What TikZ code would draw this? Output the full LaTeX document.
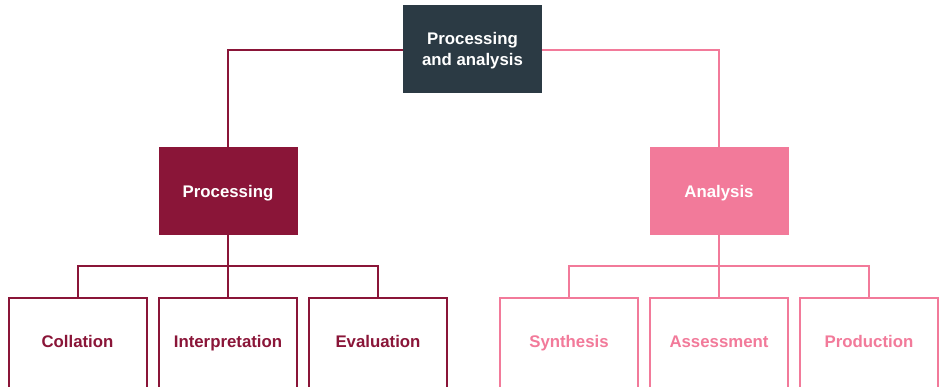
\documentclass[tikz,border=0pt]{standalone}
\usepackage{fontspec}
\setmainfont{Liberation Sans}
\definecolor{darkbox}{HTML}{2B3A44}
\definecolor{wine}{HTML}{8A1538}
\definecolor{rose}{HTML}{F27A9A}
\begin{document}
\begin{tikzpicture}[x=0.75pt,y=-0.75pt,
  every node/.style={font=\fontsize{12.6}{15.75}\selectfont\bfseries, align=center, inner sep=0pt, outer sep=0pt, text height=9.1pt, text depth=0pt},
  filledbox/.style={minimum width=104.25pt, minimum height=66pt, text=white},
  outlinebox/.style={draw, line width=1.5pt, fill=white, anchor=north, minimum width=103.5pt, minimum height=72pt},
  conn/.style={line width=1.5pt}]
\useasboundingbox (0,0) rectangle (942,386);
\fill[white] (0,0) rectangle (942,386);
% connectors (drawn first, boxes cover ends)
\coordinate (tw) at (403,50);
\coordinate (te) at (542,50);
\coordinate (pb) at (228,266);
\coordinate (ab) at (719,266);
\draw[conn, wine] (tw) -| (228,147);
\draw[conn, rose] (te) -| (719,147);
% nodes
\node[filledbox, fill=darkbox, text height=24.85pt] (top) at (472.5,48.6) {Processing\\and analysis};
\node[filledbox, fill=wine] (proc) at (228,191.3) {Processing};
\node[filledbox, fill=rose] (ana) at (719,191.3) {Analysis};
\node[outlinebox, draw=wine] (c1) at (77.5,298) {};
\node[outlinebox, draw=wine] (c2) at (228,298) {};
\node[outlinebox, draw=wine] (c3) at (378,298) {};
\node[outlinebox, draw=rose] (a1) at (569,298) {};
\node[outlinebox, draw=rose] (a2) at (719,298) {};
\node[outlinebox, draw=rose] (a3) at (869,298) {};
\node[text=wine] (c1t) at (77.5,341.6) {Collation};
\node[text=wine] (c2t) at (228,341.6) {Interpretation};
\node[text=wine] (c3t) at (378,341.6) {Evaluation};
\node[text=rose] (a1t) at (569,341.6) {Synthesis};
\node[text=rose] (a2t) at (719,341.6) {Assessment};
\node[text=rose] (a3t) at (869,341.6) {Production};
% lower connectors
\draw[conn, wine] (proc.south) -- (c2.north);
\draw[conn, wine] (c1.north) |- (pb) -| (c3.north);
\draw[conn, rose] (ana.south) -- (a2.north);
\draw[conn, rose] (a1.north) |- (ab) -| (a3.north);
\end{tikzpicture}
\end{document}
